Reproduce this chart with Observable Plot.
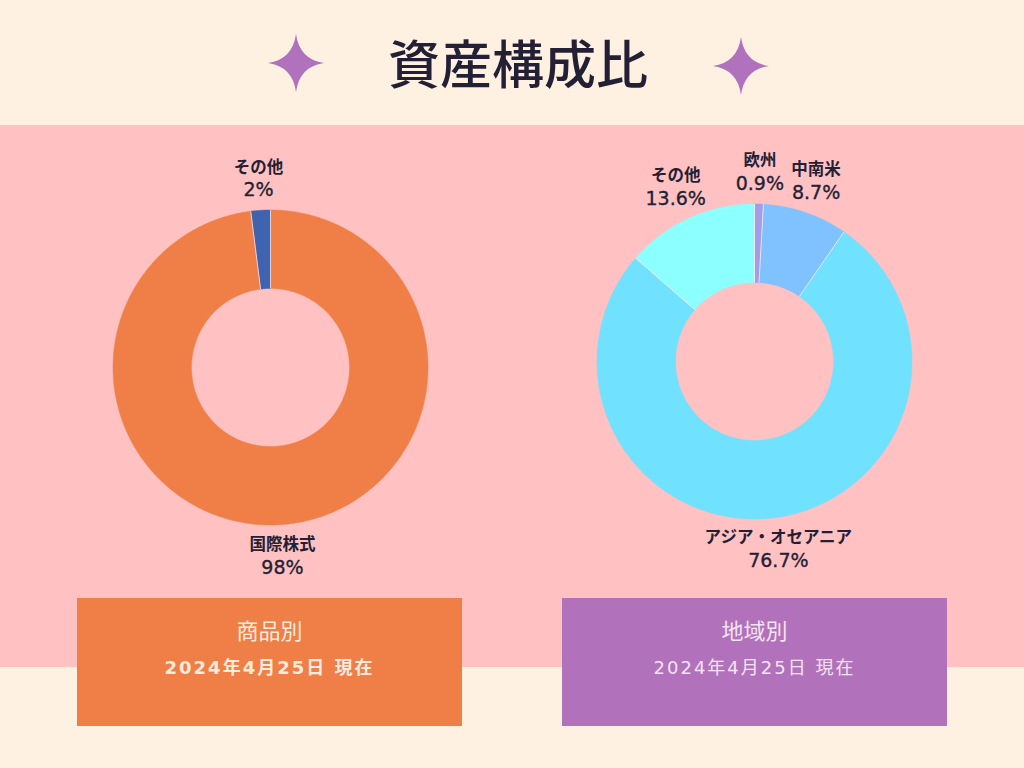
<!DOCTYPE html>
<html>
<head>
<meta charset="utf-8">
<script src="https://cdn.jsdelivr.net/npm/d3@7"></script>
<script src="https://cdn.jsdelivr.net/npm/@observablehq/plot@0.6"></script>
<style>
  html, body { margin:0; padding:0; }
  body { width:1024px; height:768px; position:relative; overflow:hidden; background:#FEF1E1; font-family:"Noto Sans CJK JP","Noto Sans",sans-serif; }
  .band { position:absolute; left:0; top:125px; width:1024px; height:542px; background:#FFC1C1; }
  .title { position:absolute; left:0; width:1036px; top:24px; text-align:center; font-size:52px; font-weight:500; color:#231F35; line-height:76px; }
  .star { position:absolute; }
  .box { position:absolute; top:598px; width:385px; height:128px; color:#FDEBDD; text-align:center; }
  .box .h { position:absolute; left:0; right:0; top:16px; font-size:22px; line-height:30px; font-weight:400; }
  .box .d { position:absolute; left:0; right:0; top:57px; font-size:18px; line-height:26px; font-family:"DejaVu Sans","Noto Sans CJK JP",sans-serif; letter-spacing:2px; }
  .chart { position:absolute; }
  g[aria-label="value"] text { letter-spacing:2px; }
  g[aria-label="name"] text { letter-spacing:0.6px; }
</style>
</head>
<body>
<div class="band"></div>
<svg class="star" style="left:266px;top:33px" width="60" height="60" viewBox="-30 -30 60 60"><path d="M0,-29 Q3.5,-3.5 28,0 Q3.5,3.5 0,29 Q-3.5,3.5 -28,0 Q-3.5,-3.5 0,-29 Z" fill="#B072BC"/></svg>
<svg class="star" style="left:711px;top:36px" width="60" height="60" viewBox="-30 -30 60 60"><path d="M0,-29 Q3.5,-3.5 28,0 Q3.5,3.5 0,29 Q-3.5,3.5 -28,0 Q-3.5,-3.5 0,-29 Z" fill="#B072BC"/></svg>
<div class="title">資産構成比</div>
<div id="left" class="chart" style="left:50px;top:147px"></div>
<div id="right" class="chart" style="left:534px;top:141px"></div>
<div class="box" style="left:77px;background:#F07F47"><div class="h">商品別</div><div class="d" style="font-weight:bold">2024年4月25日 現在</div></div>
<div class="box" style="left:562px;background:#B272BB;color:#F4E3F2"><div class="h">地域別</div><div class="d">2024年4月25日 現在</div></div>
<script>
// ---- data ----
const leftCategories = ["国際株式", "その他"];
const leftValues = [98, 2];
const leftLabels = ["98%", "2%"];
const leftColors = ["#F07F47", "#3F63AE"];

const rightCategories = ["欧州", "中南米", "アジア・オセアニア", "その他"];
const rightValues = [0.9, 8.7, 76.7, 13.6];
const rightLabels = ["0.9%", "8.7%", "76.7%", "13.6%"];
const rightColors = ["#A39CE6", "#80C1FF", "#70E1FF", "#8CFFFF"];

function donut(cats, vals, labels, colors) {
  const R = 157.5, r = 79, half = 220;
  const total = d3.sum(vals);
  const rows = [], bounds = [], labelRows = [];
  let acc = 0;
  cats.forEach((c, i) => {
    const a0 = acc / total * 2 * Math.PI;
    acc += vals[i];
    const a1 = acc / total * 2 * Math.PI;
    const n = Math.max(2, Math.ceil((a1 - a0) / 0.008));
    for (let k = 0; k <= n; k++) {
      const t = a0 + (a1 - a0) * k / n;
      rows.push({cat: c, x: R * Math.sin(t), y: R * Math.cos(t)});
    }
    for (let k = n; k >= 0; k--) {
      const t = a0 + (a1 - a0) * k / n;
      rows.push({cat: c, x: r * Math.sin(t), y: r * Math.cos(t)});
    }
    bounds.push({x1: r * Math.sin(a0), y1: r * Math.cos(a0), x2: R * Math.sin(a0), y2: R * Math.cos(a0)});
    const m = (a0 + a1) / 2, dx = Math.sin(m), dy = Math.cos(m);
    const cx = dx * 166 + dx * 24, cy = dy * 168 + Math.sign(dy) * 21;
    labelRows.push({cat: c, label: labels[i], x: cx, yName: cy + 11.5, yVal: cy - 11.5});
  });
  return Plot.plot({
    width: 2 * half, height: 2 * half, margin: 0,
    x: {domain: [-half, half], axis: null},
    y: {domain: [-half, half], axis: null},
    color: {domain: cats, range: colors},
    style: {background: "transparent", overflow: "visible"},
    marks: [
      Plot.line(rows, {x: "x", y: "y", z: "cat", fill: "cat", stroke: "cat", strokeWidth: 0.5, curve: "linear"}),
      Plot.link(bounds, {x1: "x1", y1: "y1", x2: "x2", y2: "y2", stroke: "#FFE8EA", strokeWidth: 1, strokeOpacity: 0.8}),
      Plot.text(labelRows, {x: "x", y: "yName", text: "cat", fill: "#231F35", fontSize: 16.5, fontWeight: "bold", fontFamily: "Noto Sans CJK JP", ariaLabel: "name"}),
      Plot.text(labelRows, {x: "x", y: "yVal", text: "label", fill: "#231F35", stroke: "#231F35", strokeWidth: 0.35, fontSize: 19, fontFamily: "DejaVu Sans", ariaLabel: "value"})
    ]
  });
}

document.getElementById("left").append(donut(leftCategories, leftValues, leftLabels, leftColors));
document.getElementById("right").append(donut(rightCategories, rightValues, rightLabels, rightColors));
</script>
</body>
</html>
